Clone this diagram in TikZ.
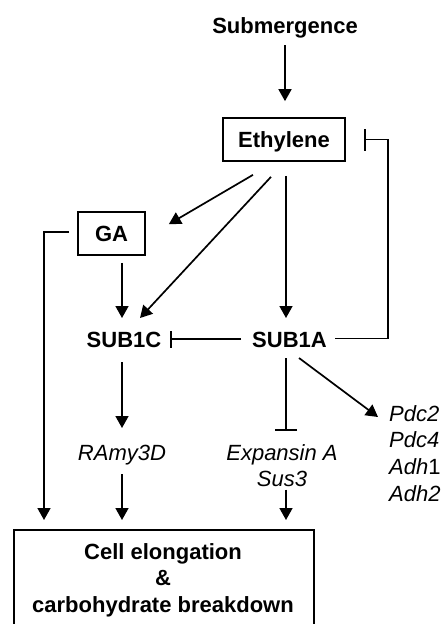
\documentclass[tikz,border=0pt]{standalone}
\usepackage{fontspec}
\setmainfont{Liberation Sans}
\usetikzlibrary{arrows.meta}
\begin{document}
\begin{tikzpicture}[x=1pt,y=-1pt,
  lbl/.style={font=\fontsize{22}{26.5}\selectfont\bfseries, inner sep=0pt, anchor=base},
  gene/.style={font=\fontsize{22}{26.5}\selectfont, inner sep=0pt, anchor=base},
  box/.style={draw, line width=1.7pt, inner sep=0pt, font=\fontsize{22}{26.5}\selectfont\bfseries, text height=15.8pt, text depth=0pt},
  arr/.style={line width=1.7pt, -{Triangle[length=12pt,width=13pt]}},
  inh/.style={line width=1.7pt, -{Bar[width=22pt]}},
]
\clip (0,0) rectangle (441,624);

% nodes
\node[lbl] (sub) at (285,33) {Submergence};
\node[box, minimum width=122pt, minimum height=43pt] (eth) at (284,139.5) {Ethylene};
\node[box, minimum width=67pt, minimum height=43pt] (ga) at (111.5,233.5) {GA};
\node[lbl] (s1c) at (124,347) {SUB1C};
\node[lbl] (s1a) at (289.5,347) {SUB1A};
\node[gene] (ramy) at (122,460) {\textit{RAmy3D}};
\node[gene] (exp) at (282,460) {\textit{Expansin A}};
\node[gene] (sus) at (282,486) {\textit{Sus3}};
\node[gene, anchor=base west] (p1) at (389,421) {\textit{Pdc2}};
\node[gene, anchor=base west] (p2) at (389,447.7) {\textit{Pdc4}};
\node[gene, anchor=base west] (p3) at (389,474.3) {\textit{Adh}1};
\node[gene, anchor=base west] (p4) at (389,501) {\textit{Adh2}};
\node[box, minimum width=300pt, minimum height=120pt, anchor=north west, text height=0pt] (cell) at (13,529) {};
\node[lbl, anchor=north, align=center] (celltxt) at (163,543.2) {Cell elongation\\\&\\carbohydrate breakdown};

% connectors
\draw[arr] ([yshift=-12pt]sub.base) -- ([xshift=1pt,yshift=16pt]eth.north);
\draw[arr] ([xshift=-31pt,yshift=-13pt]eth.south) -- ([xshift=23pt,yshift=-13pt]ga.north east);
\draw[arr] ([xshift=-13pt,yshift=-15pt]eth.south) -- ([xshift=16pt,yshift=29pt]s1c.base);
\draw[arr] ([xshift=2pt,yshift=-14pt]eth.south) -- ([xshift=-3.5pt,yshift=29pt]s1a.base);
\draw[arr] ([xshift=10.5pt,yshift=-7pt]ga.south) -- ([xshift=-2pt,yshift=29pt]s1c.base);
\draw[arr] ([xshift=-8pt,yshift=1.5pt]ga.west) -| ([xshift=31pt,yshift=9pt]cell.north west);
\draw[inh] ([xshift=45.5pt,yshift=8.5pt]s1a.base) -| ([xshift=42pt]eth.east) -- ([xshift=18pt]eth.east);
\draw[line width=1.7pt, -{Bar[width=17pt]}] ([xshift=-48.5pt,yshift=8pt]s1a.base) -- ([xshift=46pt,yshift=8pt]s1c.base);
\draw[arr] ([xshift=-2pt,yshift=-15pt]s1c.base) -- ([yshift=32pt]ramy.base);
\draw[inh] ([xshift=-3.5pt,yshift=-11pt]s1a.base) -- ([xshift=4pt,yshift=29.5pt]exp.base);
\draw[arr] ([xshift=4pt,yshift=-3.5pt]sus.base) -- ([xshift=273pt,yshift=9pt]cell.north west);
\draw[arr] ([yshift=-14pt]ramy.base) -- ([xshift=109pt,yshift=9pt]cell.north west);
\draw[arr] ([xshift=9.5pt,yshift=-11pt]s1a.base) -- ([xshift=-11pt,yshift=4pt]p1.base west);
\end{tikzpicture}
\end{document}
